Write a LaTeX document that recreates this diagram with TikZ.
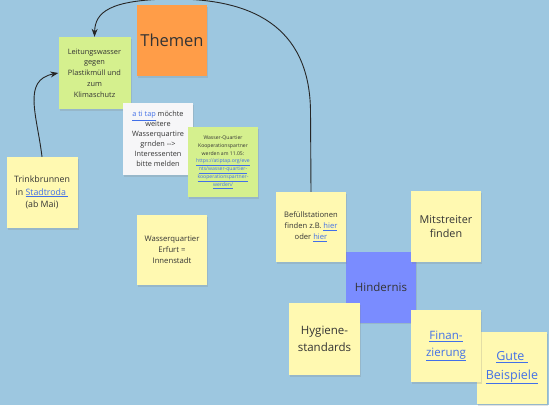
\documentclass[tikz,border=0pt]{standalone}
\usepackage{fontspec}
\setmainfont{Open Sans}
\usetikzlibrary{arrows.meta,shadows}
\definecolor{bg}{RGB}{157,199,224}
\definecolor{noteyellow}{RGB}{255,249,177}
\definecolor{notegreen}{RGB}{213,240,142}
\definecolor{noteorange}{RGB}{255,157,72}
\definecolor{noteblue}{RGB}{122,140,255}
\definecolor{notewhite}{RGB}{246,246,248}
\definecolor{txt}{RGB}{52,52,52}
\definecolor{linkblue}{RGB}{66,112,232}
\newcommand{\lnk}[1]{\textcolor{linkblue}{\underline{#1}}}
\newcommand{\fsz}[2]{\fontsize{#1}{#2}\selectfont}
\tikzset{
  note/.style={draw=none, inner sep=0pt, minimum width=70pt, minimum height=70pt,
    align=center, text=txt,
    drop shadow={shadow xshift=1pt, shadow yshift=-1.5pt, opacity=0.22}},
  conn/.style={draw=black!85, line width=0.9pt, -{Stealth[length=8pt,width=6pt]}}
}
\begin{document}
\begin{tikzpicture}[x=1pt,y=-1pt]
\fill[bg] (0,0) rectangle (549,405);
\useasboundingbox (0,0) rectangle (549,405);

% notes
\node[note, fill=noteorange, minimum height=71pt, font=\fsz{16.5}{20}] (themen) at (172,40.5)
  {Themen};
\node[note, fill=notegreen, minimum width=72pt, minimum height=72pt, font=\fsz{7.4}{10.7}] (leit) at (94.5,73)
  {Leitungswasser\\gegen\\Plastikmüll und\\zum\\Klimaschutz};
\node[note, fill=notewhite, minimum height=72pt, font=\fsz{7.3}{10}] (atitap) at (158,139)
  {\lnk{a ti tap} möchte\\weitere\\Wasserquartire\\grnden {-}{-}>\\Interessenten\\bitte melden};
\node[note, fill=notegreen, font=\fsz{5.1}{7.8}] (wq) at (223,162)
  {Wasser-Quartier\\Kooperationspartner\\werden am 11.05:\\\lnk{https://atiptap.org/eve}\\\lnk{nts/wasser-quartier-}\\\lnk{kooperationspartner-}\\\lnk{werden/}};
\node[note, fill=noteyellow, minimum width=71pt, minimum height=71pt, font=\fsz{8.8}{12.7}] (trink) at (42,192.5)
  {Trinkbrunnen\\in \lnk{Stadtroda }\\(ab Mai)};
\node[note, fill=noteyellow, font=\fsz{7.7}{11}] (erfurt) at (172,250)
  {Wasserquartier\\Erfurt =\\Innenstadt};
\node[note, fill=noteblue, minimum height=71pt, font=\fsz{11.5}{14}] (hind) at (381,287)
  {Hindernis};
\node[note, fill=noteyellow, font=\fsz{7.6}{11}] (bef) at (311,227)
  {Befüllstationen\\finden z.B. \lnk{hier}\\oder \lnk{hier}};
\node[note, fill=noteyellow, minimum height=71pt, font=\fsz{10.8}{14.7}] (mit) at (446,226.5)
  {Mitstreiter\\finden};
\node[note, fill=noteyellow, minimum width=71pt, minimum height=72pt, font=\fsz{11.5}{16.7}] (hyg) at (324.5,339)
  {Hygiene-\\standards};
\node[note, fill=noteyellow, minimum height=72pt, font=\fsz{12.5}{18.3}] (gute) at (512,368)
  {\lnk{Gute }\\\lnk{Beispiele}};
\node[note, fill=noteyellow, minimum height=72pt, font=\fsz{11.5}{16.5}] (fin) at (446,346)
  {\lnk{Finan-}\\\lnk{zierung}};

% connectors
\draw[conn] (bef.north) -- (310.5,110) .. controls (309,25) and (250,-2) .. (170,-1)
  .. controls (110,0) and (95,12) .. (leit.north);
\draw[conn] (trink.north) .. controls (37,115) and (22,80) .. (leit.west);
\end{tikzpicture}
\end{document}
